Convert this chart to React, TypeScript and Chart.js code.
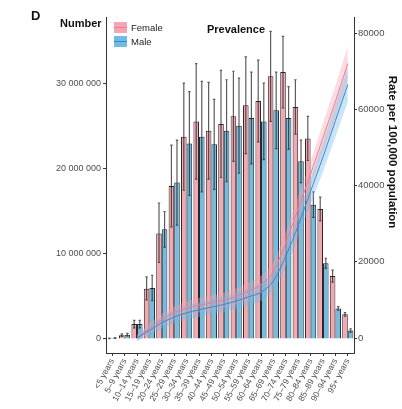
import React, { useEffect, useRef } from "react";
import { Chart, registerables } from "chart.js";

Chart.register(...registerables);

const ageGroups = [
  "<5 years", "5–9 years", "10–14 years", "15–19 years", "20–24 years",
  "25–29 years", "30–34 years", "35–39 years", "40–44 years", "45–49 years",
  "50–54 years", "55–59 years", "60–64 years", "65–69 years", "70–74 years",
  "75–79 years", "80–84 years", "85–89 years", "90–94 years", "95+ years",
];

// Prevalent cases (millions)
const femaleNumber = [0.08, 0.45, 1.75, 5.9, 12.4, 18.0, 23.8, 25.6, 24.5, 25.3, 26.2, 27.5, 28.0, 30.9, 31.4, 27.3, 23.6, 15.3, 7.4, 2.9];
const femaleUpper = [0.12, 0.6, 2.2, 7.3, 16.0, 22.8, 30.1, 32.4, 30.2, 31.6, 31.5, 33.2, 32.8, 36.2, 35.6, 30.5, 26.2, 16.7, 8.1, 3.1];
const femaleLower = [0.05, 0.3, 1.3, 4.6, 9.0, 13.2, 17.5, 18.8, 18.8, 19.0, 20.9, 21.8, 23.2, 25.6, 27.2, 24.1, 21.0, 13.9, 6.7, 2.7];
const maleNumber = [0.12, 0.5, 1.75, 6.0, 12.9, 18.4, 23.0, 23.8, 22.9, 24.5, 25.1, 26.0, 25.6, 26.9, 26.0, 20.9, 15.8, 8.9, 3.6, 1.0];
const maleUpper = [0.17, 0.65, 2.2, 7.5, 15.0, 23.4, 29.1, 30.3, 28.2, 30.5, 30.7, 31.4, 30.1, 31.4, 29.7, 23.4, 17.3, 9.5, 3.8, 1.2];
const maleLower = [0.08, 0.35, 1.3, 4.5, 10.8, 13.4, 16.9, 17.3, 17.6, 18.5, 19.5, 20.6, 21.1, 22.4, 22.3, 18.4, 14.3, 8.3, 3.4, 0.8];

// Rate per 100,000 population (smoothed) with confidence band
const femaleRate = [null, null, 0, 2500, 4800, 6600, 7800, 8600, 9200, 9900, 10900, 12300, 14000, 17500, 25000, 34000, 43000, 52500, 62000, 72000];
const femaleRateUpper = [null, null, 800, 3700, 6300, 8300, 9600, 10500, 11200, 11900, 13000, 14500, 16300, 20000, 27800, 37100, 46400, 56300, 66200, 76600];
const femaleRateLower = [null, null, -800, 1300, 3300, 4900, 6000, 6700, 7200, 7900, 8800, 10100, 11700, 15000, 22200, 30900, 39600, 48700, 57800, 67400];
const maleRate = [null, null, 0, 2000, 4000, 5500, 6600, 7400, 8100, 8800, 9700, 10800, 12000, 15000, 21500, 29500, 38500, 47500, 57000, 66500];
const maleRateUpper = [null, null, 800, 3200, 5500, 7200, 8400, 9300, 10100, 10800, 11800, 13000, 14300, 17500, 24300, 32600, 41900, 51300, 61200, 71100];
const maleRateLower = [null, null, -800, 800, 2500, 3800, 4800, 5500, 6100, 6800, 7600, 8600, 9700, 12500, 18700, 26400, 35100, 43700, 52800, 61900];

const leftTicks = [0, 10000000, 20000000, 30000000];
const rightTicks = [0, 20000, 40000, 60000, 80000];

const M = 1000000;
const FONT = "'Liberation Sans', Arial, sans-serif";

const PINK_BAR = "#F4A7B2";
const BLUE_BAR = "#72BCE3";
const PINK_BAND = "rgba(246,160,176,0.38)";
const BLUE_BAND = "rgba(110,185,232,0.38)";
const PINK_LINE = "#EE7C8E";
const BLUE_LINE = "#3B86C8";

function fmtSpace(v: number) {
  return String(v).replace(/\B(?=(\d{3})+(?!\d))/g, " ");
}

const errorBarPlugin = {
  id: "errorBars",
  afterDatasetDraw(chart: any, args: any) {
    const idx = args.index;
    if (idx !== 0 && idx !== 1) return;
    const lo = idx === 0 ? femaleLower : maleLower;
    const hi = idx === 0 ? femaleUpper : maleUpper;
    const y = chart.scales.y;
    const ctx = chart.ctx;
    ctx.save();
    ctx.strokeStyle = "rgba(30,30,30,0.72)";
    ctx.lineWidth = 1.2;
    args.meta.data.forEach((el: any, i: number) => {
      const x = el.x;
      const y1 = y.getPixelForValue(lo[i] * M);
      const y2 = y.getPixelForValue(hi[i] * M);
      ctx.beginPath();
      ctx.moveTo(x, y1);
      ctx.lineTo(x, y2);
      ctx.moveTo(x - 1.2, y1);
      ctx.lineTo(x + 1.2, y1);
      ctx.moveTo(x - 1.2, y2);
      ctx.lineTo(x + 1.2, y2);
      ctx.stroke();
    });
    ctx.restore();
  },
};

const textPlugin = {
  id: "texts",
  afterDraw(chart: any) {
    const ctx = chart.ctx;
    ctx.save();
    ctx.fillStyle = "#111";
    ctx.textBaseline = "alphabetic";
    ctx.font = `bold 13px ${FONT}`;
    ctx.textAlign = "left";
    ctx.fillText("D", 31, 20);
    ctx.font = `bold 11px ${FONT}`;
    ctx.fillText("Number", 60, 27);
    ctx.textAlign = "center";
    ctx.fillText("Prevalence", 236, 33);

    // legend
    ctx.fillStyle = PINK_BAR;
    ctx.fillRect(114, 22, 13, 11);
    ctx.fillStyle = BLUE_BAR;
    ctx.fillRect(114, 36, 13, 11);
    ctx.lineWidth = 1;
    ctx.strokeStyle = PINK_LINE;
    ctx.beginPath();
    ctx.moveTo(114, 27.5);
    ctx.lineTo(127, 27.5);
    ctx.stroke();
    ctx.strokeStyle = BLUE_LINE;
    ctx.beginPath();
    ctx.moveTo(114, 41.5);
    ctx.lineTo(127, 41.5);
    ctx.stroke();
    ctx.fillStyle = "#222";
    ctx.font = `9.5px ${FONT}`;
    ctx.textAlign = "left";
    ctx.textBaseline = "middle";
    ctx.fillText("Female", 131, 28.5);
    ctx.fillText("Male", 131, 42);

    // right axis title
    ctx.translate(392, 152);
    ctx.rotate(Math.PI / 2);
    ctx.font = `bold 11.5px ${FONT}`;
    ctx.fillStyle = "#111";
    ctx.textAlign = "center";
    ctx.textBaseline = "middle";
    ctx.fillText("Rate per 100,000 population", 0, 0);
    ctx.restore();
  },
};

export default function App() {
  const ref = useRef<HTMLCanvasElement | null>(null);

  useEffect(() => {
    document.body.style.margin = "0";
    const canvas = ref.current;
    if (!canvas) return;
    const lineBase = {
      type: "line" as const,
      yAxisID: "y1",
      pointRadius: 0,
      pointHoverRadius: 0,
      cubicInterpolationMode: "monotone" as const,
      spanGaps: false,
    };
    const chart = new Chart(canvas, {
      type: "bar",
      data: {
        labels: ageGroups,
        datasets: [
          {
            label: "Female",
            data: femaleNumber.map((v) => v * M),
            backgroundColor: PINK_BAR,
            borderColor: "#2a2a2a",
            borderWidth: 1,
            categoryPercentage: 0.9,
            barPercentage: 1.0,
            yAxisID: "y",
            order: 10,
          } as any,
          {
            label: "Male",
            data: maleNumber.map((v) => v * M),
            backgroundColor: BLUE_BAR,
            borderColor: "#2a2a2a",
            borderWidth: 1,
            categoryPercentage: 0.9,
            barPercentage: 1.0,
            yAxisID: "y",
            order: 10,
          } as any,
          {
            ...lineBase,
            label: "fU",
            data: femaleRateUpper,
            borderWidth: 0,
            borderColor: "rgba(0,0,0,0)",
            fill: false,
            order: 6,
          } as any,
          {
            ...lineBase,
            label: "fL",
            data: femaleRateLower,
            borderWidth: 0,
            borderColor: "rgba(0,0,0,0)",
            backgroundColor: PINK_BAND,
            fill: "-1",
            order: 6,
          } as any,
          {
            ...lineBase,
            label: "mU",
            data: maleRateUpper,
            borderWidth: 0,
            borderColor: "rgba(0,0,0,0)",
            fill: false,
            order: 5,
          } as any,
          {
            ...lineBase,
            label: "mL",
            data: maleRateLower,
            borderWidth: 0,
            borderColor: "rgba(0,0,0,0)",
            backgroundColor: BLUE_BAND,
            fill: "-1",
            order: 5,
          } as any,
          {
            ...lineBase,
            label: "Female rate",
            data: femaleRate,
            borderColor: PINK_LINE,
            borderWidth: 1,
            fill: false,
            order: 2,
          } as any,
          {
            ...lineBase,
            label: "Male rate",
            data: maleRate,
            borderColor: BLUE_LINE,
            borderWidth: 1,
            fill: false,
            order: 1,
          } as any,
        ],
      },
      options: {
        animation: false,
        responsive: false,
        devicePixelRatio: 1,
        layout: { padding: { top: 17, left: 0, right: 0, bottom: 0 } },
        plugins: {
          legend: { display: false },
          title: { display: false },
          tooltip: { enabled: false },
        },
        scales: {
          x: {
            type: "category",
            offset: true,
            grid: {
              display: true,
              drawOnChartArea: false,
              drawTicks: true,
              tickLength: 3,
              color: "#333",
              offset: false,
            },
            border: { display: true, color: "#333", width: 1 },
            ticks: {
              autoSkip: false,
              minRotation: 62,
              maxRotation: 62,
              padding: 1,
              color: "#4d4d4d",
              font: { family: FONT, size: 8.5 },
            },
            afterFit: (s: any) => {
              s.height = 56;
            },
          },
          y: {
            type: "linear",
            position: "left",
            min: -1647000,
            max: 37880000,
            grid: {
              display: true,
              drawOnChartArea: false,
              drawTicks: true,
              tickLength: 3,
              color: "#333",
            },
            border: { display: true, color: "#333", width: 1 },
            ticks: {
              padding: 2,
              color: "#4d4d4d",
              font: { family: FONT, size: 9 },
              callback: (v: any) => fmtSpace(Number(v)),
            },
            afterBuildTicks: (s: any) => {
              s.ticks = leftTicks.map((value) => ({ value }));
            },
            afterFit: (s: any) => {
              s.width = 106;
            },
          },
          y1: {
            type: "linear",
            position: "right",
            min: -3934,
            max: 84197,
            grid: {
              display: true,
              drawOnChartArea: false,
              drawTicks: true,
              tickLength: 3,
              color: "#333",
            },
            border: { display: true, color: "#333", width: 1 },
            ticks: {
              padding: 1,
              color: "#4d4d4d",
              font: { family: FONT, size: 9.5 },
              callback: (v: any) => String(v),
            },
            afterBuildTicks: (s: any) => {
              s.ticks = rightTicks.map((value) => ({ value }));
            },
            afterFit: (s: any) => {
              s.width = 48;
            },
          },
        },
      } as any,
      plugins: [errorBarPlugin, textPlugin],
    });
    return () => chart.destroy();
  }, []);

  return (
    <div style={{ width: 402, height: 409, position: "relative", background: "#fff" }}>
      <canvas ref={ref} width={402} height={409} style={{ display: "block" }} />
    </div>
  );
}
